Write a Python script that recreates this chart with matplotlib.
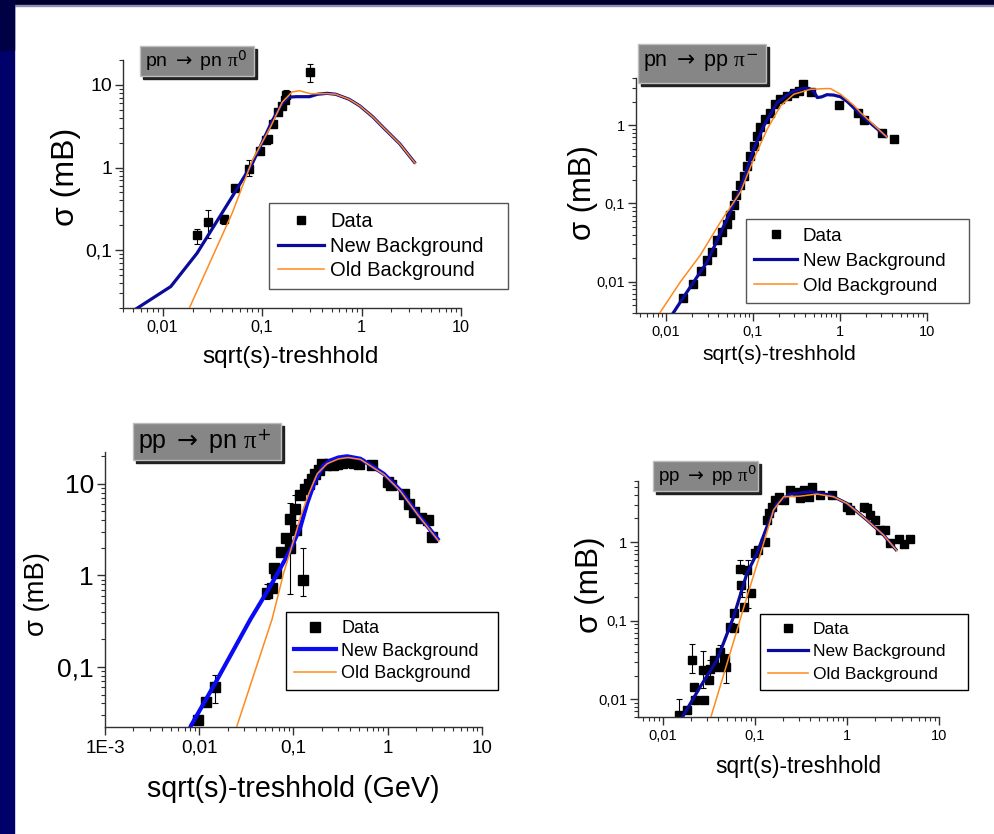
"""
Four pion production cross sections on one slide (log-log)
"""
import matplotlib
matplotlib.use("Agg")
import matplotlib.pyplot as plt
from matplotlib.lines import Line2D
from matplotlib.patches import Rectangle
from matplotlib.ticker import LogLocator, NullFormatter, FixedLocator, FixedFormatter

plt.rcParams['font.family'] = ['Liberation Sans', 'DejaVu Sans']
plt.rcParams['mathtext.fontset'] = 'custom'
plt.rcParams['mathtext.rm'] = 'DejaVu Sans'
plt.rcParams['mathtext.it'] = 'Liberation Serif'

W, H = 994, 834  # output size in pixels

# ---- pn -> pn pi0 ----
pnpi0_data_x = [0.0222, 0.0285, 0.0416, 0.0537, 0.074, 0.0955, 0.109, 0.115, 0.129,
                0.146, 0.158, 0.171, 0.176, 0.303]
pnpi0_data_y = [0.152, 0.221, 0.24, 0.56, 0.97, 1.58, 2.13, 2.2, 3.39,
                4.68, 5.6, 6.5, 7.65, 14.2]
pnpi0_err_x = [0.0222, 0.0285, 0.0416, 0.074, 0.176, 0.303]
pnpi0_err_lo = [0.12, 0.14, 0.21, 0.8, 6.8, 10.7]
pnpi0_err_hi = [0.18, 0.31, 0.27, 1.22, 8.7, 17.9]
pnpi0_new_x = [0.0045, 0.0121, 0.0222, 0.05, 0.0798, 0.127, 0.16, 0.185, 0.22, 0.3,
               0.36, 0.45, 0.55, 0.75, 0.955, 1.3, 1.64, 2.42, 3.48]
pnpi0_new_y = [0.0169, 0.0364, 0.092, 0.443, 1.12, 3.7, 6.0, 7.1, 7.2, 7.2,
               7.7, 7.9, 7.7, 6.7, 5.6, 4.1, 3.08, 1.94, 1.12]
pnpi0_old_x = [0.017, 0.0186, 0.05, 0.0798, 0.12, 0.16, 0.2, 0.237, 0.31, 0.45,
               0.55, 0.75, 0.955, 1.3, 1.64, 2.42, 3.48]
pnpi0_old_y = [0.0157, 0.02, 0.28, 1.22, 3.0, 6.2, 8.2, 8.5, 7.8, 7.85,
               7.7, 6.7, 5.6, 4.1, 3.08, 1.94, 1.12]

# ---- pn -> pp pi- ----
pppim_data_x = [0.0157, 0.0205, 0.0251, 0.0297, 0.0341, 0.0387, 0.0442, 0.0504, 0.0551,
                0.0602, 0.0646, 0.0718, 0.0784, 0.0857, 0.0936, 0.102, 0.112, 0.122,
                0.139, 0.159, 0.177, 0.207, 0.248, 0.295, 0.337, 0.379, 0.46, 0.98,
                1.61, 1.89, 3.07, 4.19]
pppim_data_y = [0.00628, 0.00927, 0.0137, 0.0189, 0.0241, 0.034, 0.0434, 0.0552, 0.0706,
                0.0946, 0.127, 0.17, 0.227, 0.305, 0.408, 0.547, 0.733, 0.935,
                1.19, 1.45, 1.85, 2.14, 2.36, 2.6, 2.74, 3.32, 2.65, 1.8,
                1.41, 1.17, 0.785, 0.664]
pppim_new_x = [0.0105, 0.0117, 0.0175, 0.0297, 0.0505, 0.0718, 0.102, 0.133, 0.19,
               0.27, 0.367, 0.44, 0.5, 0.55, 0.62, 0.71, 0.85, 1.02, 1.22, 1.89, 3.51]
pppim_new_y = [0.0032, 0.0038, 0.0075, 0.018, 0.064, 0.154, 0.495, 0.98, 1.94,
               2.6, 2.93, 2.95, 2.7, 2.25, 2.3, 2.45, 2.42, 2.3, 2.0, 1.25, 0.698]
pppim_old_x = [0.0075, 0.00844, 0.0146, 0.0248, 0.0422, 0.0718, 0.102, 0.146, 0.207,
               0.295, 0.46, 0.684, 0.78, 1.02, 1.44, 1.73, 3.51]
pppim_old_y = [0.0031, 0.004, 0.01, 0.022, 0.058, 0.14, 0.37, 0.89, 1.76,
               2.48, 2.87, 2.93, 2.93, 2.48, 1.8, 1.45, 0.698]

# ---- pp -> pn pi+ ----
pnpip_data_x = [0.0096, 0.0119, 0.0146, 0.0525, 0.0593, 0.0628, 0.066, 0.0745, 0.0843,
                0.0914, 0.093, 0.105, 0.108, 0.119, 0.127, 0.134, 0.146, 0.158, 0.171,
                0.185, 0.202, 0.22, 0.238, 0.265, 0.292, 0.33, 0.372, 0.438, 0.495,
                0.687, 1.0, 1.08, 1.5, 1.7, 1.92, 2.26, 2.66, 3.0]
pnpip_data_y = [0.0261, 0.0414, 0.0601, 0.643, 0.728, 1.2, 1.05, 1.82, 2.53,
                2.0, 4.07, 5.36, 3.12, 7.47, 0.895, 8.83, 10.0, 11.3, 12.8,
                14.0, 16.5, 16.0, 16.5, 15.8, 16.5, 17.0, 17.1, 17.0, 16.5,
                15.8, 10.4, 9.6, 7.8, 6.07, 4.92, 4.18, 4.0, 2.64]
pnpip_err_x = [0.0146, 0.0525, 0.0914, 0.105, 0.127, 3.0]
pnpip_err_lo = [0.04, 0.55, 0.62, 4.0, 0.6, 2.4]
pnpip_err_hi = [0.082, 0.8, 6.2, 7.6, 2.0, 2.9]
pnpip_new_x = [0.0075, 0.00816, 0.0146, 0.0349, 0.0569, 0.093, 0.119, 0.14, 0.171,
               0.21, 0.247, 0.3, 0.372, 0.516, 0.914, 1.37, 2.07, 3.51]
pnpip_new_y = [0.018, 0.0228, 0.065, 0.33, 0.759, 1.89, 3.39, 6.07, 10.9,
               15.8, 17.9, 19.3, 19.9, 18.7, 12.8, 8.45, 4.73, 2.39]
pnpip_old_x = [0.024, 0.0252, 0.0593, 0.0789, 0.101, 0.119, 0.146, 0.179, 0.228,
               0.3, 0.38, 0.516, 0.914, 1.37, 2.07, 3.51]
pnpip_old_y = [0.0196, 0.0228, 0.33, 1.06, 2.43, 4.34, 7.8, 12.8, 16.5,
               18.6, 19.3, 18.4, 12.6, 8.3, 4.65, 2.35]

# ---- pp -> pp pi0 ----
pppi0_data_x = [0.0148, 0.0182, 0.0207, 0.0215, 0.0224, 0.0272, 0.0281, 0.0313, 0.0326,
                0.0361, 0.0403, 0.042, 0.0476, 0.0487, 0.0539, 0.0586, 0.0596, 0.068,
                0.0705, 0.0752, 0.0818, 0.0905, 0.101, 0.109, 0.129, 0.135, 0.141,
                0.153, 0.166, 0.181, 0.205, 0.242, 0.286, 0.311, 0.338, 0.383, 0.417,
                0.513, 0.688, 1.0, 1.09, 1.52, 1.65, 1.79, 2.03, 2.3, 2.61, 2.96,
                3.64, 4.13, 4.88]
pppi0_data_y = [0.00625, 0.0072, 0.0314, 0.0144, 0.0097, 0.0239, 0.0097, 0.0175, 0.024,
                0.0314, 0.0258, 0.04, 0.033, 0.026, 0.0834, 0.124, 0.0819, 0.449,
                0.283, 0.15, 0.44, 0.222, 0.718, 0.791, 1.01, 1.91, 2.32,
                2.82, 3.43, 3.78, 3.43, 4.6, 4.37, 3.6, 4.6, 3.78, 5.06,
                3.97, 3.97, 2.82, 2.56, 2.82, 2.69, 2.21, 1.91, 1.42, 1.42, 0.962,
                1.11, 0.94, 1.11]
pppi0_err_x = [0.0148, 0.0207, 0.0272, 0.0326, 0.042, 0.0487, 0.068, 0.072, 0.083]
pppi0_err_lo = [0.0055, 0.0214, 0.014, 0.0167, 0.0284, 0.0162, 0.42, 0.2, 0.143]
pppi0_err_hi = [0.01, 0.05, 0.0415, 0.0316, 0.0486, 0.038, 0.6, 0.23, 0.6]
pppi0_new_x = [0.015, 0.0165, 0.0254, 0.0386, 0.0586, 0.0818, 0.105, 0.135, 0.173,
               0.242, 0.399, 0.658, 1.0, 1.65, 2.5, 3.49]
pppi0_new_y = [0.0052, 0.0061, 0.0144, 0.0314, 0.112, 0.4, 0.718, 1.57, 3.11,
               4.09, 4.37, 3.97, 3.11, 1.91, 1.23, 0.775]
pppi0_old_x = [0.031, 0.0333, 0.0497, 0.0818, 0.124, 0.159, 0.205, 0.311, 0.472,
               0.715, 1.0, 1.65, 2.5, 3.49]
pppi0_old_y = [0.0045, 0.006, 0.0285, 0.201, 0.962, 2.56, 3.78, 3.85, 4.09,
               3.78, 3.11, 1.91, 1.23, 0.775]

LEGEND_LABELS = ["Data", "New Background", "Old Background"]
ORANGE = "#ff8a1c"


def px_rect(x0, y0, x1, y1):
    """pixel box (origin top left) -> figure fraction [l, b, w, h]"""
    return [x0 / W, 1 - y1 / H, (x1 - x0) / W, (y1 - y0) / H]


def title_box(fig, x0, y0, x1, y1, text, size):
    """grey Origin style label with a dark drop shadow"""
    sh = 3
    fig.patches.append(Rectangle(((x0 + sh) / W, 1 - y1 / H), (x1 - x0 - sh) / W,
                                 (y1 - y0 - sh) / H, transform=fig.transFigure,
                                 color="#202020", zorder=1))
    fig.patches.append(Rectangle((x0 / W, 1 - (y1 - sh) / H), (x1 - x0 - sh) / W,
                                 (y1 - y0 - sh) / H, transform=fig.transFigure,
                                 facecolor="#868686", edgecolor="#bdbdbd", lw=1, zorder=2))
    fig.text((x0 + 5) / W, 1 - (y0 + y1 - sh) / 2 / H, text, fontsize=size,
             ha="left", va="center", zorder=3)


def setup_axes(ax, xlim, ylim, xticks, xlabels, yticks, ylabels, xfs, yfs):
    """log-log axes with only left and bottom spines, ticks outside"""
    ax.set_xscale("log")
    ax.set_yscale("log")
    ax.set_xlim(*xlim)
    ax.set_ylim(*ylim)
    for side in ("top", "right"):
        ax.spines[side].set_visible(False)
    for side in ("left", "bottom"):
        ax.spines[side].set_color("#303030")
        ax.spines[side].set_linewidth(1.0)
    ax.xaxis.set_major_locator(FixedLocator(xticks))
    ax.xaxis.set_major_formatter(FixedFormatter(xlabels))
    ax.yaxis.set_major_locator(FixedLocator(yticks))
    ax.yaxis.set_major_formatter(FixedFormatter(ylabels))
    for axis in (ax.xaxis, ax.yaxis):
        axis.set_minor_locator(LogLocator(base=10, subs=range(2, 10), numticks=20))
        axis.set_minor_formatter(NullFormatter())
    ax.tick_params(which="major", direction="out", length=6, width=1, color="#303030")
    ax.tick_params(which="minor", direction="out", length=3, width=0.8, color="#303030")
    ax.tick_params(axis="x", labelsize=xfs, pad=3)
    ax.tick_params(axis="y", labelsize=yfs, pad=2)
    ax.patch.set_alpha(0)


def draw_curves(ax, dx, dy, ex, elo, ehi, nx, ny, ox, oy, blue, blue_lw, ms):
    """data squares with error bars, then new and old background"""
    ax.plot(dx, dy, ls="none", marker="s", ms=ms, color="black", zorder=2)
    if ex:
        ax.vlines(ex, elo, ehi, color="black", lw=0.8, zorder=2)
        ax.plot(ex, elo, ls="none", marker="_", ms=5, mew=0.8, color="black", zorder=2)
        ax.plot(ex, ehi, ls="none", marker="_", ms=5, mew=0.8, color="black", zorder=2)
    ax.plot(nx, ny, color=blue, lw=blue_lw, zorder=3, solid_capstyle="butt")
    ax.plot(ox, oy, color=ORANGE, lw=1.1, zorder=4)


def add_legend(fig, ax, box, blue, blue_lw, ms, size, edge, spacing):
    """legend with a fixed width box, given as pixel corners (x0, y0, x1, y1)"""
    x0, y0, x1, y1 = box
    handles = [Line2D([], [], ls="none", marker="s", ms=ms, color="black"),
               Line2D([], [], color=blue, lw=blue_lw),
               Line2D([], [], color=ORANGE, lw=1.1)]
    leg = ax.legend(handles, LEGEND_LABELS, loc="upper left", mode="expand",
                    bbox_to_anchor=(x0 / W, 1 - y1 / H, (x1 - x0) / W, (y1 - y0) / H),
                    bbox_transform=fig.transFigure,
                    fontsize=size, frameon=True, fancybox=False, framealpha=1,
                    edgecolor=edge, handlelength=2.3, handletextpad=0.3,
                    labelspacing=spacing, borderpad=0.45, borderaxespad=0)
    leg.get_frame().set_linewidth(1.0)
    leg.set_zorder(10)


def main():
    fig = plt.figure(figsize=(W / 100, H / 100), dpi=100, facecolor="white")

    # slide template: dark blue strips on the left and top
    fig.patches.append(Rectangle((0, 0), 14 / W, 1, transform=fig.transFigure,
                                 color="#00006a", zorder=0))
    fig.patches.append(Rectangle((0, 1 - 5 / H), 1, 5 / H, transform=fig.transFigure,
                                 color="#000030", zorder=0))
    fig.patches.append(Rectangle((14 / W, 1 - 6 / H), 1, 1 / H, transform=fig.transFigure,
                                 color="#9090b0", zorder=0))
    fig.patches.append(Rectangle((0, 1 - 50 / H), 14 / W, 50 / H, transform=fig.transFigure,
                                 color="#000045", zorder=0))

    dark_blue = "#0a0a9c"
    bright_blue = "#0a0af5"

    # top left: pn -> pn pi0
    ax1 = fig.add_axes(px_rect(123, 60, 461, 308))
    setup_axes(ax1, (0.004, 10), (0.02, 20), [0.01, 0.1, 1, 10], ["0,01", "0,1", "1", "10"],
               [0.1, 1, 10], ["0,1", "1", "10"], 11.7, 14)
    draw_curves(ax1, pnpi0_data_x, pnpi0_data_y, pnpi0_err_x, pnpi0_err_lo, pnpi0_err_hi,
                pnpi0_new_x, pnpi0_new_y, pnpi0_old_x, pnpi0_old_y, dark_blue, 2.3, 6)
    ax1.set_xlabel("sqrt(s)-treshhold", fontsize=17.5)
    ax1.xaxis.set_label_coords(0.495, -0.155)
    ax1.set_ylabel("σ (mB)", fontsize=23)
    ax1.yaxis.set_label_coords(-0.125, 0.53)
    add_legend(fig, ax1, (269, 203, 508, 285), dark_blue, 2.3, 6, 14.5, "#555555", 0.28)
    title_box(fig, 140, 46, 257, 79, r"pn $\rightarrow$ pn $\pi^{0}$", 14)

    # top right: pn -> pp pi-
    ax2 = fig.add_axes(px_rect(636, 78, 926.7, 313))
    setup_axes(ax2, (0.0045, 10), (0.004, 4), [0.01, 0.1, 1, 10], ["0,01", "0,1", "1", "10"],
               [0.01, 0.1, 1], ["0,01", "0,1", "1"], 10.5, 10.5)
    draw_curves(ax2, pppim_data_x, pppim_data_y, [], [], [],
                pppim_new_x, pppim_new_y, pppim_old_x, pppim_old_y, dark_blue, 2.3, 5.5)
    ax2.set_xlabel("sqrt(s)-treshhold", fontsize=15.2)
    ax2.xaxis.set_label_coords(0.4925, -0.136)
    ax2.set_ylabel("σ (mB)", fontsize=22.4)
    ax2.yaxis.set_label_coords(-0.131, 0.513)
    add_legend(fig, ax2, (745.7, 219, 969, 302.7), dark_blue, 2.3, 5.5, 13.5, "#555555", 0.42)
    title_box(fig, 638, 44, 769, 86, r"pn $\rightarrow$ pp $\pi^{-}$", 15.5)

    # bottom left: pp -> pn pi+
    ax3 = fig.add_axes(px_rect(105, 452.3, 481.7, 727.3))
    setup_axes(ax3, (0.001, 10), (0.022, 22), [0.001, 0.01, 0.1, 1, 10],
               ["1E-3", "0,01", "0,1", "1", "10"], [0.1, 1, 10], ["0,1", "1", "10"], 13.5, 19)
    draw_curves(ax3, pnpip_data_x, pnpip_data_y, pnpip_err_x, pnpip_err_lo, pnpip_err_hi,
                pnpip_new_x, pnpip_new_y, pnpip_old_x, pnpip_old_y, bright_blue, 3.0, 7)
    ax3.set_xlabel("sqrt(s)-treshhold (GeV)", fontsize=20.6)
    ax3.xaxis.set_label_coords(0.5, -0.173)
    ax3.set_ylabel("σ (mB)", fontsize=19.8)
    ax3.yaxis.set_label_coords(-0.146, 0.485)
    add_legend(fig, ax3, (286, 612, 498, 684), bright_blue, 3.0, 7, 13, "black", 0.3)
    title_box(fig, 133, 422.7, 284, 463, r"pp $\rightarrow$ pn $\pi^{+}$", 18)

    # bottom right: pp -> pp pi0
    ax4 = fig.add_axes(px_rect(638.3, 481, 939, 716.7))
    setup_axes(ax4, (0.0054, 10), (0.006, 6), [0.01, 0.1, 1, 10], ["0,01", "0,1", "1", "10"],
               [0.01, 0.1, 1], ["0,01", "0,1", "1"], 10.5, 10.7)
    draw_curves(ax4, pppi0_data_x, pppi0_data_y, pppi0_err_x, pppi0_err_lo, pppi0_err_hi,
                pppi0_new_x, pppi0_new_y, pppi0_old_x, pppi0_old_y, dark_blue, 2.3, 6)
    ax4.set_xlabel("sqrt(s)-treshhold", fontsize=16.4)
    ax4.xaxis.set_label_coords(0.531, -0.1625)
    ax4.set_ylabel("σ (mB)", fontsize=22.7)
    ax4.yaxis.set_label_coords(-0.111, 0.559)
    add_legend(fig, ax4, (760, 614, 968, 690), dark_blue, 2.3, 6, 12.5, "black", 0.42)
    title_box(fig, 653, 460.7, 761, 494, r"pp $\rightarrow$ pp $\pi^{0}$", 13.6)

    fig.savefig("out.png", dpi=100, facecolor="white")


main()
